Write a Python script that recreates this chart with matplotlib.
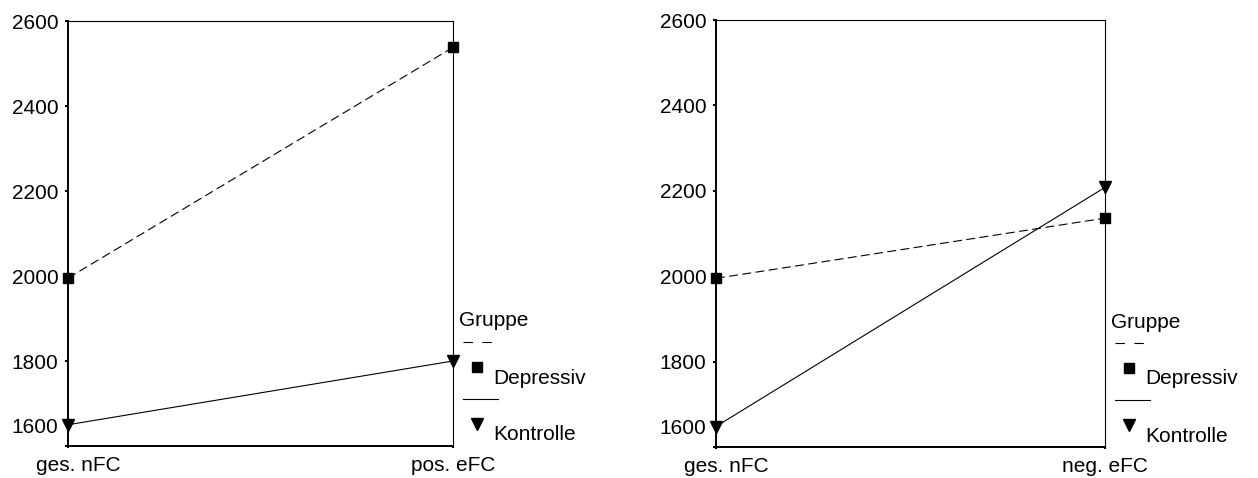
import matplotlib.pyplot as plt
from matplotlib.lines import Line2D
from matplotlib.transforms import ScaledTranslation

plt.rcParams['font.family'] = ['Liberation Sans', 'DejaVu Sans']

# mean values per condition (two panels)
left_cats = ['ges. nFC', 'pos. eFC']
left_depressiv = [1995, 2538]
left_kontrolle = [1650, 1800]

right_cats = ['ges. nFC', 'neg. eFC']
right_depressiv = [1995, 2136]
right_kontrolle = [1648, 2208]

yticks = [1600, 1800, 2000, 2200, 2400, 2600]
groups = ['Depressiv', 'Kontrolle']
legend_title = 'Gruppe'

FS = 15
DASH = (8, 4)

fig = plt.figure(figsize=(12.58, 4.78), dpi=100)
ax1 = fig.add_axes([68 / 1258, 32 / 478, 385 / 1258, 425 / 478])
ax2 = fig.add_axes([716 / 1258, 31 / 478, 389 / 1258, 427 / 478])


def shift(dx_px, dy_px):
    return ScaledTranslation(dx_px / 100, dy_px / 100, fig.dpi_scale_trans)


def draw_panel(ax, cats, dep, kon):
    x = list(range(len(cats)))
    ax.plot(x, dep, color='black', lw=0.8, dashes=DASH,
            marker='s', ms=7.5, mfc='black', mec='black', clip_on=False, zorder=5)
    ax.plot(x, kon, color='black', lw=0.8, ls='-',
            marker='v', ms=9, mfc='black', mec='black', clip_on=False, zorder=5)
    ax.set_xlim(0, len(cats) - 1)
    ax.set_ylim(1600, 2600)
    ax.set_yticks(yticks)
    ax.set_yticklabels([str(v) for v in yticks], fontsize=FS)
    ax.set_xticks(x)
    ax.set_xticklabels(cats, fontsize=FS)
    ax.tick_params(axis='y', length=2.5, width=1.5, pad=4.5, direction='out')
    ax.tick_params(axis='x', length=1.5, width=1.5, pad=6, direction='out')
    for s in ['left', 'bottom']:
        ax.spines[s].set_linewidth(1.4)
    for s in ['top', 'right']:
        ax.spines[s].set_linewidth(0.8)

    # lowest y label sits above the axis corner, first x label moved right
    lab = ax.get_yticklabels()[0]
    lab.set_transform(lab.get_transform() + shift(0, 21))
    lab = ax.get_xticklabels()[0]
    lab.set_transform(lab.get_transform() + shift(10, 0))

    # legend to the right of the plot area, offsets in pixels from lower right corner
    def at(dx, dy):
        return ax.transAxes + shift(dx, dy)

    ax.text(1, 0, legend_title, transform=at(6, 125), fontsize=FS,
            ha='left', va='center')
    ax.text(1, 0, groups[0], transform=at(40, 68), fontsize=FS,
            ha='left', va='center')
    ax.text(1, 0, groups[1], transform=at(40, 11), fontsize=FS,
            ha='left', va='center')

    w = ax.bbox.width
    ax.add_line(Line2D([1, 1 + 29 / w], [0, 0], transform=at(10, 104),
                       clip_on=False, color='black', lw=0.8, dashes=(8.5, 8.5)))
    ax.add_line(Line2D([1, 1 + 35 / w], [0, 0], transform=at(10, 47),
                       clip_on=False, color='black', lw=0.8))
    ax.plot([1], [0], transform=at(23.5, 79.5), marker='s', ms=7.5,
            color='black', ls='none', clip_on=False)
    ax.plot([1], [0], transform=at(23.5, 22), marker='v', ms=9,
            color='black', ls='none', clip_on=False)


draw_panel(ax1, left_cats, left_depressiv, left_kontrolle)
draw_panel(ax2, right_cats, right_depressiv, right_kontrolle)

fig.savefig('out.png', dpi=100)
